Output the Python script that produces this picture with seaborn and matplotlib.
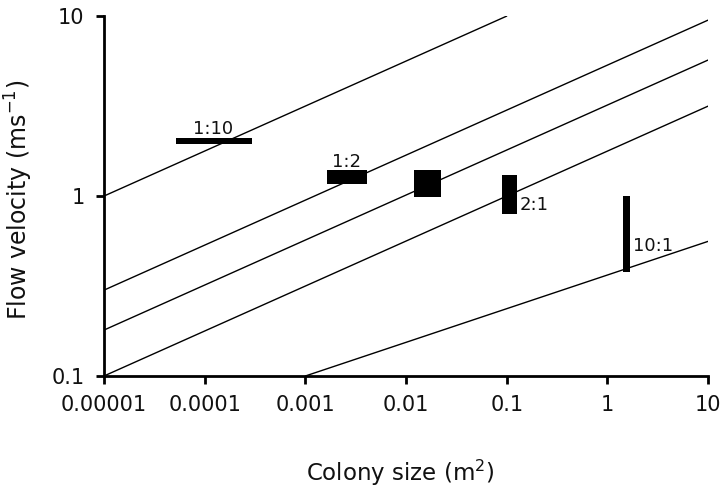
import matplotlib
matplotlib.use("Agg")
import matplotlib.pyplot as plt
import seaborn as sns
import pandas as pd

# Reference lines (start/end points)
line_ids = [1, 2, 3, 4, 5]
line_x0 = [1e-5, 1e-5, 1e-5, 1e-5, 1e-3]
line_y0 = [1.0, 0.30, 0.18, 0.10, 0.10]
line_x1 = [0.1, 10, 10, 10, 10]
line_y1 = [10.0, 9.5, 5.7, 3.16, 0.56]

# Aspect-ratio boxes (rectangles in data coordinates)
box_labels = ["1:10", "1:2", "1:1", "2:1", "10:1"]
box_xlo = [5.2e-5, 1.64e-3, 0.0121, 0.0904, 1.43]
box_xhi = [2.96e-4, 4.08e-3, 0.0224, 0.126, 1.66]
box_ylo = [1.94, 1.166, 0.991, 0.794, 0.378]
box_yhi = [2.09, 1.395, 1.395, 1.31, 1.0]

# Text annotations (baseline positions)
ann_text = ["1:10", "1:2", "2:1", "10:1"]
ann_x = [1.21e-4, 2.55e-3, 0.133, 1.80]
ann_y = [2.21, 1.45, 0.836, 0.497]
ann_ha = ["center", "center", "left", "left"]

xticks = [1e-5, 1e-4, 1e-3, 1e-2, 0.1, 1, 10]
xtick_labels = ["0.00001", "0.0001", "0.001", "0.01", "0.1", "1", "10"]
yticks = [0.1, 1, 10]
ytick_labels = ["0.1", "1", "10"]

sns.set_style("white")
plt.rcParams["font.family"] = ["DejaVu Sans"]
plt.rcParams["mathtext.default"] = "regular"

fig = plt.figure(figsize=(7.24, 4.88), dpi=100)
ax = fig.add_axes([0.1436, 0.2295, 0.978 - 0.1436, 0.967 - 0.2295])

rows = []
for i, x0, y0, x1, y1 in zip(line_ids, line_x0, line_y0, line_x1, line_y1):
    rows.append({"id": i, "x": x0, "y": y0})
    rows.append({"id": i, "x": x1, "y": y1})
df = pd.DataFrame(rows)
sns.lineplot(data=df, x="x", y="y", units="id", estimator=None, color="black",
             linewidth=1.0, ax=ax, legend=False)

ax.set_xscale("log")
ax.set_yscale("log")
ax.set_xlim(1e-5, 10)
ax.set_ylim(0.1, 10)

for xlo, xhi, ylo, yhi in zip(box_xlo, box_xhi, box_ylo, box_yhi):
    ax.bar(xlo, yhi - ylo, width=xhi - xlo, bottom=ylo, align="edge",
           color="black", edgecolor="none", zorder=3)

for t, x, y, ha in zip(ann_text, ann_x, ann_y, ann_ha):
    ax.text(x, y, t, ha=ha, va="baseline", fontsize=13, color="#111111")

ax.set_xticks(xticks)
ax.set_xticklabels(xtick_labels)
ax.set_yticks(yticks)
ax.set_yticklabels(ytick_labels)
ax.minorticks_off()
ax.tick_params(axis="both", which="major", direction="out", length=6, width=2,
               labelsize=15, color="black", labelcolor="#111111",
               bottom=True, left=True)
ax.tick_params(axis="x", pad=8)
ax.tick_params(axis="y", pad=8)

for s in ["top", "right"]:
    ax.spines[s].set_visible(False)
for s in ["left", "bottom"]:
    ax.spines[s].set_linewidth(2)
    ax.spines[s].set_color("black")

ax.set_xlabel("Colony size (m$^{2}$)", fontsize=16.5, color="#111111", va="center")
ax.set_ylabel("Flow velocity (ms$^{-1}$)", fontsize=17, color="#111111", va="center")
ax.xaxis.set_label_coords(0.49, -0.268)
ax.yaxis.set_label_coords(-0.14, 0.49)

fig.savefig("out.png", dpi=100)
